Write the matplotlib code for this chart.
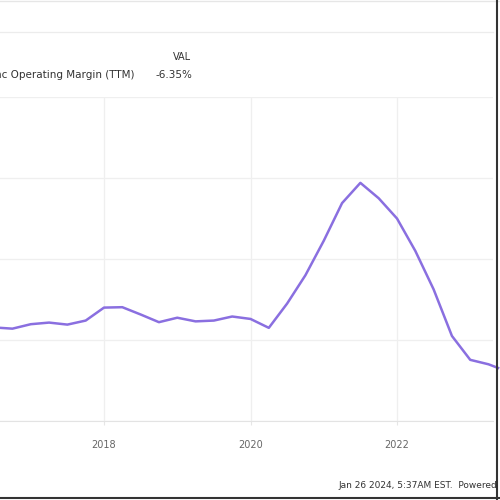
import matplotlib.pyplot as plt
import numpy as np

# quarterly TTM operating margin (%)
years = [2016.5, 2016.75, 2017.0, 2017.25, 2017.5, 2017.75, 2018.0, 2018.25,
         2018.5, 2018.75, 2019.0, 2019.25, 2019.5, 2019.75, 2020.0, 2020.25,
         2020.5, 2020.75, 2021.0, 2021.25, 2021.5, 2021.75, 2022.0, 2022.25,
         2022.5, 2022.75, 2023.0, 2023.25, 2023.38]
margin = [3.1, 2.8, 3.9, 4.3, 3.8, 4.8, 8.0, 8.1,
          6.3, 4.4, 5.5, 4.6, 4.8, 5.8, 5.2, 3.0,
          9.0, 16.0, 24.5, 33.8, 38.8, 35.0, 30.0, 22.0,
          12.5, 1.0, -4.9, -6.0, -6.9]
tick_years = [2018, 2020, 2022]
tick_labels = ['2018', '2020', '2022']
grid_vals = [-20, 0, 20, 40, 60]

fig = plt.figure(figsize=(5, 5), dpi=100)

# plot area: top 97px, bottom 421px, right edge 493px
ax = fig.add_axes([0.0, 1 - 421 / 500, 493 / 500, (421 - 97) / 500])
ax.plot(years, margin, color='#8a6fe0', lw=1.8, solid_joinstyle='round',
        clip_on=False)

x0 = 2018 - 104 / 73.25
x1 = 2018 + (493 - 104) / 73.25
ax.set_xlim(x0, x1)
ax.set_ylim(-20, 60)

ax.set_yticks(grid_vals)
ax.set_xticks(tick_years)
ax.set_xticklabels(tick_labels)
ax.tick_params(axis='y', length=0, labelleft=False)
ax.tick_params(axis='x', length=3, color='#e6e6e6', labelsize=7,
               labelcolor='#666666', pad=11)
ax.grid(True, color='#efefef', lw=0.9)
ax.set_axisbelow(True)
for side in ['left', 'right', 'top']:
    ax.spines[side].set_visible(False)
ax.spines['bottom'].set_color('#e3e3e3')

# legend header
fig.lines.append(plt.Line2D([0, 493 / 500], [1 - 32 / 500, 1 - 32 / 500],
                            transform=fig.transFigure, color='#ececec', lw=0.9))
fig.lines.append(plt.Line2D([0, 1], [0.999, 0.999],
                            transform=fig.transFigure, color='#e6e6e6', lw=1))
fig.text(191 / 500, 1 - 57 / 500, 'VAL', ha='right', va='center',
         fontsize=7, color='#333333')
fig.text(135 / 500, 1 - 75 / 500, 'Inc Operating Margin (TTM)',
         ha='right', va='center', fontsize=7.5, color='#333333')
fig.text(192 / 500, 1 - 75 / 500, '-6.35%', ha='right', va='center',
         fontsize=7.5, color='#333333')

# footer
fig.text(338 / 500, 1 - 486 / 500, 'Jan 26 2024, 5:37AM EST.  Powered',
         ha='left', va='center', fontsize=6.5, color='#333333')

# screenshot border
fig.lines.append(plt.Line2D([497 / 500, 497 / 500], [0, 1],
                            transform=fig.transFigure, color='#333333', lw=1.5))
fig.lines.append(plt.Line2D([0, 1], [2 / 500, 2 / 500],
                            transform=fig.transFigure, color='#333333', lw=1.5))

fig.savefig('out.png', dpi=100)
